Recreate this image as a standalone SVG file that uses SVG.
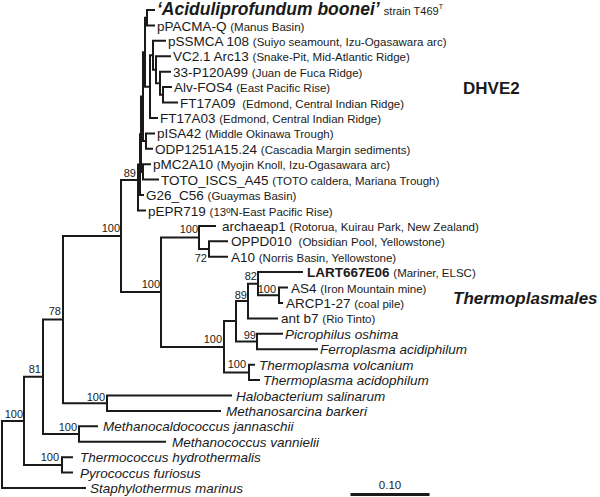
<svg xmlns="http://www.w3.org/2000/svg" width="600" height="497" viewBox="0 0 600 497">
<style>
text{font-family:"Liberation Sans",Arial,sans-serif;fill:#1a1a1a}
.n{font-size:13.5px}
.p{font-size:11.5px;font-style:normal;font-weight:normal}
.i{font-size:13.5px;font-style:italic}
.b{font-size:11px}
.br{fill:none;stroke:#1a1a1a;stroke-width:2;stroke-linecap:square}
</style>
<rect width="600" height="497" fill="#fff"/>
<g id="connectors" class="br">
<path d="M2 420.9V488M2 488H85M2 420.9H24"/>
<path d="M24 376.8V464.9M24 376.8H43M24 464.9H62"/>
<path d="M62 457.2V472.6M62 457.2H72M62 472.6H72"/>
<path d="M43 319.6V434M43 319.6H63M43 434H79"/>
<path d="M79 426.3V441.8M79 426.3H97M79 441.8H165"/>
<path d="M63 236V403.2M63 236H121M63 403.2H107"/>
<path d="M107 395.5V410.9M107 395.5H231M107 410.9H220"/>
<path d="M121 180V292M121 180H138M121 292H161"/>
<path d="M161 237.5V347M161 237.5H199M161 347H224"/>
<path d="M199 225.9V249M199 225.9H215M199 249H209"/>
<path d="M209 241.3V256.7M209 241.3H227M209 256.7H227"/>
<path d="M224 321V372.4M224 321H236M224 372.4H249"/>
<path d="M249 364.7V380.1M249 364.7H254M249 380.1H259"/>
<path d="M236 301V341.5M236 301H248M236 341.5H257"/>
<path d="M257 333.8V349.2M257 333.8H282M257 349.2H317"/>
<path d="M248 283.7V318.4M248 283.7H258M248 318.4H277"/>
<path d="M258 272.1V295.3M258 272.1H302M258 295.3H279"/>
<path d="M279 287.6V303M279 287.6H287M279 303H282"/>
<path d="M138 164.6V210.5M138 164.6H140M138 210.5H145"/>
<path d="M140 134.3V195M140 134.3H141M140 195H143"/>
<path d="M141 96.6V171.9M141 96.6H143M141 171.9H143"/>
<path d="M143 164.2V179.6M143 164.2H150M143 179.6H158"/>
<path d="M143 52.2V141.1M143 52.2H145M143 141.1H146"/>
<path d="M146 133.4V148.8M146 133.4H154M146 148.8H152"/>
<path d="M145 17.7V86.7M145 17.7H147M145 86.7H150"/>
<path d="M147 10V25.4M147 10H154M147 25.4H154"/>
<path d="M150 55.3V118M150 55.3H153M150 118H157"/>
<path d="M153 40.8V69.8M153 40.8H165M153 69.8H156"/>
<path d="M156 56.3V83.3M156 56.3H170M156 83.3H160"/>
<path d="M160 71.7V94.8M160 71.7H170M160 94.8H163"/>
<path d="M163 87.1V102.5M163 87.1H171M163 102.5H177"/>
<path d="M352 494.5H428" stroke-width="3"/>
</g>
<g id="bootstrap" text-anchor="end" class="b">
<text class="b" x="136" y="177">89</text>
<text class="b" x="120" y="232">100</text>
<text class="b" x="198" y="233">100</text>
<text class="b" x="207" y="262">72</text>
<text class="b" x="160" y="288">100</text>
<text class="b" x="257" y="280">82</text>
<text class="b" x="276" y="293">100</text>
<text class="b" x="247" y="299">89</text>
<text class="b" x="256" y="339">99</text>
<text class="b" x="222" y="343">100</text>
<text class="b" x="246" y="368">100</text>
<text class="b" x="105" y="401">100</text>
<text class="b" x="61" y="315">78</text>
<text class="b" x="41" y="373">81</text>
<text class="b" x="77" y="431">100</text>
<text class="b" x="23" y="418">100</text>
<text class="b" x="59" y="461">100</text>
</g>
<g id="t00"><text x="157" y="15" style="font-size:17.5px;font-weight:bold;font-style:italic">‘Aciduliprofundum boonei’ <tspan class="p" style="font-size:11px">strain T469</tspan><tspan style="font-size:7px;font-style:normal;font-weight:normal" dy="-6">T</tspan></text></g>
<g id="t01"><text class="n" x="157" y="30.6">pPACMA-Q <tspan class="p">(Manus Basin)</tspan></text></g>
<g id="t02"><text class="n" x="168" y="45.8">pSSMCA 108 <tspan class="p">(Suiyo seamount, Izu-Ogasawara arc)</tspan></text></g>
<g id="t03"><text class="n" x="173" y="61.3">VC2.1 Arc13 <tspan class="p">(Snake-Pit, Mid-Atlantic Ridge)</tspan></text></g>
<g id="t04"><text class="n" x="173" y="76.7">33-P120A99 <tspan class="p">(Juan de Fuca Ridge)</tspan></text></g>
<g id="t05"><text class="n" x="174" y="92.1">Alv-FOS4 <tspan class="p">(East Pacific Rise)</tspan></text></g>
<g id="t06"><text class="n" x="180" y="107.5">FT17A09 <tspan class="p" dx="3">(Edmond, Central Indian Ridge)</tspan></text></g>
<g id="t07"><text class="n" x="160" y="123">FT17A03 <tspan class="p">(Edmond, Central Indian Ridge)</tspan></text></g>
<g id="t08"><text class="n" x="157" y="138.4">pISA42 <tspan class="p">(Middle Okinawa Trough)</tspan></text></g>
<g id="t09"><text class="n" x="155" y="153.8">ODP1251A15.24 <tspan class="p">(Cascadia Margin sediments)</tspan></text></g>
<g id="t10"><text class="n" x="153" y="169.2">pMC2A10 <tspan class="p">(Myojin Knoll, Izu-Ogasawara arc)</tspan></text></g>
<g id="t11"><text class="n" x="161" y="184.6">TOTO_ISCS_A45 <tspan class="p">(TOTO caldera, Mariana Trough)</tspan></text></g>
<g id="t12"><text class="n" x="146" y="200">G26_C56 <tspan class="p">(Guaymas Basin)</tspan></text></g>
<g id="t13"><text class="n" x="148" y="215.5">pEPR719 <tspan class="p">(13ºN-East Pacific Rise)</tspan></text></g>
<g id="t14"><text class="n" x="222" y="230.9">archaeap1 <tspan class="p">(Rotorua, Kuirau Park, New Zealand)</tspan></text></g>
<g id="t15"><text class="n" x="231" y="246.3">OPPD010 <tspan class="p" dx="3">(Obsidian Pool, Yellowstone)</tspan></text></g>
<g id="t16"><text class="n" x="231" y="261.7">A10 <tspan class="p">(Norris Basin, Yellowstone)</tspan></text></g>
<g id="t17"><text class="n" x="307" y="277.1" font-weight="bold">LART667E06 <tspan class="p">(Mariner, ELSC)</tspan></text></g>
<g id="t18"><text class="n" x="291" y="292.6">AS4 <tspan class="p">(Iron Mountain mine)</tspan></text></g>
<g id="t19"><text class="n" x="286" y="308">ARCP1-27 <tspan class="p">(coal pile)</tspan></text></g>
<g id="t20"><text class="n" x="281" y="323.4">ant b7 <tspan class="p">(Rio Tinto)</tspan></text></g>
<g id="t21"><text class="i" x="285" y="338.8">Picrophilus oshima</text></g>
<g id="t22"><text class="i" x="320" y="354.2">Ferroplasma acidiphilum</text></g>
<g id="t23"><text class="i" x="259" y="369.7">Thermoplasma volcanium</text></g>
<g id="t24"><text class="i" x="263" y="385.1">Thermoplasma acidophilum</text></g>
<g id="t25"><text class="i" x="236" y="400.5">Halobacterium salinarum</text></g>
<g id="t26"><text class="i" x="226" y="415.9">Methanosarcina barkeri</text></g>
<g id="t27"><text class="i" x="103" y="431.3">Methanocaldococcus jannaschii</text></g>
<g id="t28"><text class="i" x="172" y="446.8">Methanococcus vannielii</text></g>
<g id="t29"><text class="i" x="80" y="462.2">Thermococcus hydrothermalis</text></g>
<g id="t30"><text class="i" x="80" y="477.6">Pyrococcus furiosus</text></g>
<g id="t31"><text class="i" x="90" y="493">Staphylothermus marinus</text></g>
<g id="clade-dhve2"><text x="463" y="94" style="font-size:17px;font-weight:bold">DHVE2</text></g>
<g id="clade-thermoplasmales"><text x="453" y="304" style="font-size:17px;font-weight:bold;font-style:italic">Thermoplasmales</text></g>
<g id="scale"><text x="390" y="489" text-anchor="middle" style="font-size:11.5px">0.10</text></g>
</svg>
